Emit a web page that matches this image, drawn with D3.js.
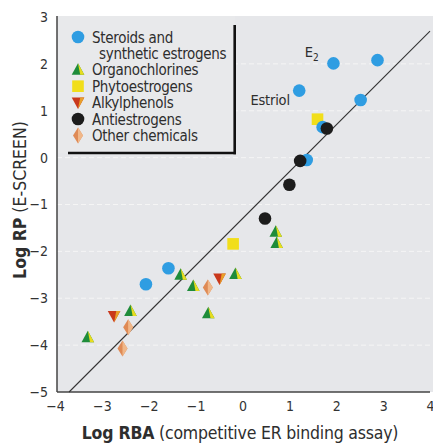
<!DOCTYPE html>
<html><head><meta charset="utf-8">
<script src="https://cdn.jsdelivr.net/npm/d3@7"></script>
<style>
body{margin:0;background:#fff}
svg{display:block}
text{font-family:"Liberation Sans Narrow","Arial Narrow","DejaVu Sans Condensed",sans-serif;fill:#2e2e2e}
</style>
</head><body>
<svg id="c" width="433" height="447"></svg>
<script>
// ---- data ----
const xTicks = [-4, -3, -2, -1, 0, 1, 2, 3, 4];
const yTicks = [-5, -4, -3, -2, -1, 0, 1, 2, 3];
const gridY = [-4, -3, -2, -1, 0, 1, 2];
const steroids = [[1.94, 2.01], [2.88, 2.08], [1.21, 1.43], [2.52, 1.23], [1.71, 0.65], [1.37, -0.05], [-2.06, -2.70], [-1.58, -2.36]];
const organochlorines = [[0.71, -1.58], [0.73, -1.82], [-0.15, -2.48], [-1.32, -2.50], [-1.05, -2.74], [-0.73, -3.32], [-2.39, -3.27], [-3.30, -3.83]];
const phytoestrogens = [[1.60, 0.82], [-0.20, -1.84]];
const alkylphenols = [[-0.49, -2.58], [-2.74, -3.38]];
const antiestrogens = [[1.80, 0.62], [1.23, -0.07], [1.00, -0.58], [0.48, -1.30]];
const otherChemicals = [[-0.74, -2.77], [-2.44, -3.62], [-2.56, -4.07]];
const fitLine = [[-3.7, -5.0], [4.0, 2.7]];
const labels = [{t: "E", sub: "2", x: 1.33, y: 2.15}, {t: "Estriol", sub: "", x: 0.17, y: 1.12}];
const legendItems = ["Steroids and", "Organochlorines", "Phytoestrogens", "Alkylphenols", "Antiestrogens", "Other chemicals"];

// ---- layout ----
const svg = d3.select("#c");
const x = d3.scaleLinear().domain([-4, 4]).range([55, 430]);
const y = d3.scaleLinear().domain([-5, 3]).range([392, 17]);
const pL = 57, pT = 16, pB = 392, pR = 433;

svg.append("rect").attr("x", pL).attr("y", pT).attr("width", pR - pL).attr("height", pB - pT).attr("fill", "#e6e7ea");

// gridlines
svg.append("g").selectAll("line").data(gridY).join("line")
  .attr("x1", pL).attr("x2", pR).attr("y1", d => y(d)).attr("y2", d => y(d))
  .attr("stroke", "#f5f5f5").attr("stroke-width", 1).attr("stroke-dasharray", "5,3");

// legend background (covers gridlines)
svg.append("rect").attr("x", pL + 1).attr("y", pT).attr("width", 177).attr("height", 137).attr("fill", "#e8e9eb");

// axes
const ax = svg.append("g").attr("transform", `translate(0,${pB})`)
  .call(d3.axisBottom(x).tickValues(xTicks).tickSize(0).tickPadding(9));
ax.select(".domain").remove();
ax.attr("font-family", null);
ax.selectAll("text").style("font-size", "14px").style("fill", "#333");
ax.selectAll(".tick").filter(d => d === 4).select("text").attr("text-anchor", "end").attr("dx", 4);
const ay = svg.append("g").attr("transform", `translate(${pL},0)`)
  .call(d3.axisLeft(y).tickValues(yTicks).tickSize(0).tickPadding(9));
ay.select(".domain").remove();
ay.attr("font-family", null);
ay.selectAll("text").style("font-size", "14px").style("fill", "#333");

svg.append("line").attr("x1", pL).attr("x2", pL).attr("y1", pT).attr("y2", pB).attr("stroke", "#444").attr("stroke-width", 1.5);
svg.append("line").attr("x1", pL).attr("x2", pR - 3).attr("y1", pB).attr("y2", pB).attr("stroke", "#444").attr("stroke-width", 1.5);

// fit line
svg.append("line").attr("x1", x(fitLine[0][0])).attr("y1", y(fitLine[0][1])).attr("x2", x(fitLine[1][0])).attr("y2", y(fitLine[1][1]))
  .attr("stroke", "#333").attr("stroke-width", 1.1);

// marker drawers
const BLUE = "#2f9de2", BLACK = "#1c1c1c", YEL = "#f1de1a", GREEN = "#1e8c3a", YG = "#e8dc1e", RED = "#c9381c", ORA = "#e8a02a", DIA1 = "#df8a55", DIA2 = "#f0b789";
function circle(g, cx, cy, c) { g.append("circle").attr("cx", cx).attr("cy", cy).attr("r", 6.3).attr("fill", c); }
function square(g, cx, cy) { g.append("rect").attr("x", cx - 5.8).attr("y", cy - 5.8).attr("width", 11.6).attr("height", 11.6).attr("fill", YEL); }
function triUp(g, cx, cy) {
  g.append("path").attr("d", `M${cx},${cy - 6.5}L${cx + 6.3},${cy + 5}L${cx - 6.3},${cy + 5}Z`).attr("fill", GREEN);
  g.append("path").attr("d", `M${cx},${cy - 6.5}L${cx + 6.3},${cy + 5}L${cx + 2.2},${cy + 5}Z`).attr("fill", YG);
}
function triDown(g, cx, cy) {
  g.append("path").attr("d", `M${cx},${cy + 6.5}L${cx + 6.3},${cy - 5}L${cx - 6.3},${cy - 5}Z`).attr("fill", RED);
  g.append("path").attr("d", `M${cx},${cy + 6.5}L${cx + 6.3},${cy - 5}L${cx + 2.2},${cy - 5}Z`).attr("fill", ORA);
}
function diamond(g, cx, cy) {
  g.append("path").attr("d", `M${cx},${cy - 8}L${cx + 5},${cy}L${cx},${cy + 8}L${cx - 5},${cy}Z`).attr("fill", DIA1);
  g.append("path").attr("d", `M${cx},${cy - 8}L${cx + 5},${cy}L${cx},${cy + 8}Z`).attr("fill", DIA2);
}

const m = svg.append("g");
phytoestrogens.forEach(d => square(m, x(d[0]), y(d[1])));
steroids.forEach(d => circle(m, x(d[0]), y(d[1]), BLUE));
antiestrogens.forEach(d => circle(m, x(d[0]), y(d[1]), BLACK));
organochlorines.forEach(d => triUp(m, x(d[0]), y(d[1])));
alkylphenols.forEach(d => triDown(m, x(d[0]), y(d[1])));
otherChemicals.forEach(d => diamond(m, x(d[0]), y(d[1])));

// point labels
labels.forEach(l => {
  const t = svg.append("text").attr("x", x(l.x)).attr("y", y(l.y)).style("font-size", "14.5px").style("letter-spacing", "-0.2px").text(l.t);
  if (l.sub) t.append("tspan").attr("dy", 4).style("font-size", "10px").text(l.sub);
});

// legend
const lg = svg.append("g");
const lx = 78, ly0 = 37, step = 16.4;
const legRows = [0, 2, 3, 4, 5, 6];
const drawers = [
  (g, cx, cy) => circle(g, cx, cy, BLUE),
  (g, cx, cy) => triUp(g, cx, cy),
  (g, cx, cy) => square(g, cx, cy),
  (g, cx, cy) => triDown(g, cx, cy),
  (g, cx, cy) => circle(g, cx, cy, BLACK),
  (g, cx, cy) => diamond(g, cx, cy)
];
const legFont = "15px", legLS = "-0.3px";
legendItems.forEach((name, i) => {
  const cy = ly0 + legRows[i] * step;
  drawers[i](lg, lx, cy);
  lg.append("text").attr("x", 92).attr("y", cy + 5.5).style("font-size", legFont).style("letter-spacing", legLS).text(name);
});
lg.append("text").attr("x", 99).attr("y", ly0 + step + 5.5).style("font-size", legFont).style("letter-spacing", legLS).text("synthetic estrogens");
lg.append("line").attr("x1", 68).attr("x2", 236).attr("y1", 153).attr("y2", 153).attr("stroke", "#111").attr("stroke-width", 2.6);
lg.append("line").attr("x1", 234.7).attr("x2", 234.7).attr("y1", 25).attr("y2", 154.3).attr("stroke", "#111").attr("stroke-width", 2.6);

// axis titles
const xt = svg.append("text").attr("x", 240).attr("y", 439).attr("text-anchor", "middle").style("font-size", "17.5px").style("letter-spacing", "-0.2px");
xt.append("tspan").style("font-weight", "bold").text("Log RBA");
xt.append("tspan").text(" (competitive ER binding assay)");
const yt = svg.append("text").attr("transform", `translate(26,200) rotate(-90)`).attr("text-anchor", "middle").style("font-size", "17.5px");
yt.append("tspan").style("font-weight", "bold").text("Log RP");
yt.append("tspan").text(" (E-SCREEN)");
</script>
</body></html>
